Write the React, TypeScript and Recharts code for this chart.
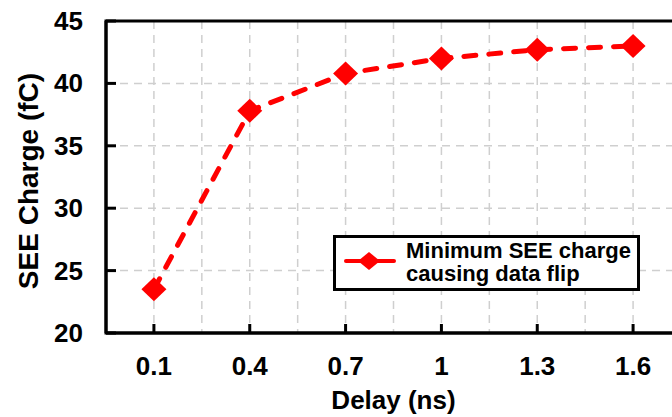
import { LineChart, Line, XAxis, YAxis, CartesianGrid, ReferenceArea, Legend } from 'recharts'

document.body.style.margin = '0'

const delays = [0.1, 0.4, 0.7, 1.0, 1.3, 1.6]
const minCharge = [23.5, 37.8, 40.8, 42.0, 42.7, 43.0]
const xTicks = [0.1, 0.4, 0.7, 1, 1.3, 1.6]
const xTickLabels = ['0.1', '0.4', '0.7', '1', '1.3', '1.6']
const xGrid = [0.1, 0.25, 0.4, 0.55, 0.7, 0.85, 1.0, 1.15, 1.3, 1.45, 1.6]
const yTicks = [20, 25, 30, 35, 40, 45]
const xDomain = [-0.05, 1.75]
const yDomain = [20, 45]
const seriesName = ['Minimum SEE charge', 'causing data flip']

const data = delays.map((x, i) => ({ x, charge: minCharge[i] }))

const FONT = '"Liberation Sans", Arial, sans-serif'
const RED = '#ff0000'

function Diamond(props: any) {
  const { cx, cy, index } = props
  if (cx == null || cy == null) return <g key={index} />
  const w = 12.5
  const h = 12
  return (
    <path
      key={index}
      d={`M${cx},${cy - h} L${cx + w},${cy} L${cx},${cy + h} L${cx - w},${cy} Z`}
      fill={RED}
    />
  )
}

function XTick(props: any) {
  const { x, y, payload } = props
  const i = xTicks.indexOf(payload.value)
  return (
    <g>
      <line x1={x} x2={x} y1={y} y2={y - 9} stroke="#000" strokeWidth={3} />
      <text x={x} y={y + 42} textAnchor="middle" fontFamily={FONT} fontWeight="bold" fontSize={26} fill="#000">
        {i >= 0 ? xTickLabels[i] : payload.value}
      </text>
    </g>
  )
}

function YTick(props: any) {
  const { x, y, payload } = props
  return (
    <g>
      <line x1={x} x2={x + 10} y1={y} y2={y} stroke="#000" strokeWidth={3} />
      <text x={x - 23} y={y + 9} textAnchor="end" fontFamily={FONT} fontWeight="bold" fontSize={26} fill="#000">
        {payload.value}
      </text>
    </g>
  )
}

function renderLegend() {
  return (
    <div
      style={{
        boxSizing: 'border-box',
        width: 307,
        height: 56,
        border: '3px solid #000',
        background: '#fff',
      }}
    >
      <svg width={301} height={50} style={{ display: 'block' }}>
        <line x1={10} x2={58} y1={23} y2={23} stroke={RED} strokeWidth={4} strokeLinecap="round" />
        <path d="M33,14 L44,23 L33,32 L22,23 Z" fill={RED} />
        <text x={70} y={19.5} fontFamily={FONT} fontWeight="bold" fontSize={22} fill="#000">
          {seriesName[0]}
        </text>
        <text x={70} y={42.5} fontFamily={FONT} fontWeight="bold" fontSize={22} fill="#000">
          {seriesName[1]}
        </text>
      </svg>
    </div>
  )
}

export default function App() {
  return (
    <div style={{ width: 672, height: 417, overflow: 'hidden', position: 'relative', background: '#fff' }}>
      <LineChart width={681} height={417} data={data} margin={{ top: 21, right: 0, left: 0, bottom: 0 }}>
        <CartesianGrid
          horizontalValues={yTicks}
          verticalValues={xGrid}
          stroke="#cfcfcf"
          strokeWidth={1.5}
          strokeDasharray="8 6"
        />
        <XAxis
          type="number"
          dataKey="x"
          domain={xDomain}
          ticks={xTicks}
          allowDataOverflow
          height={84}
          tickSize={0}
          tickMargin={0}
          tickLine={false}
          axisLine={{ stroke: '#000', strokeWidth: 3 }}
          tick={<XTick />}
          label={{
            content: (p: any) => {
              const vb = p.viewBox
              return (
                <text
                  x={vb.x + vb.width / 2}
                  y={vb.y + 76}
                  textAnchor="middle"
                  fontFamily={FONT}
                  fontWeight="bold"
                  fontSize={26}
                  fill="#000"
                >
                  Delay (ns)
                </text>
              )
            },
          }}
        />
        <YAxis
          type="number"
          domain={yDomain}
          ticks={yTicks}
          allowDataOverflow
          width={106}
          tickSize={0}
          tickMargin={0}
          tickLine={false}
          axisLine={{ stroke: '#000', strokeWidth: 3 }}
          tick={<YTick />}
          label={{
            content: (p: any) => {
              const vb = p.viewBox
              const cx = vb.x + 37.5
              const cy = vb.y + vb.height / 2 + 4
              return (
                <text
                  x={cx}
                  y={cy}
                  textAnchor="middle"
                  transform={`rotate(-90 ${cx} ${cy})`}
                  fontFamily={FONT}
                  fontWeight="bold"
                  fontSize={28}
                  fill="#000"
                >
                  SEE Charge (fC)
                </text>
              )
            },
          }}
        />
        <ReferenceArea
          x1={xDomain[0]}
          x2={xDomain[1]}
          y1={yDomain[0]}
          y2={yDomain[1]}
          fill="none"
          stroke="#000"
          strokeWidth={3}
          fillOpacity={0}
        />
        <Line
          dataKey="charge"
          stroke={RED}
          strokeWidth={5}
          strokeDasharray="12 13"
          strokeLinecap="round"
          dot={(p: any) => <Diamond key={p.index} {...p} />}
          activeDot={false}
          isAnimationActive={false}
        />
        <Legend
          layout="vertical"
          verticalAlign="middle"
          align="center"
          content={renderLegend}
          wrapperStyle={{ position: 'absolute', left: 333, top: 235, width: 307, height: 56 }}
        />
      </LineChart>
    </div>
  )
}
